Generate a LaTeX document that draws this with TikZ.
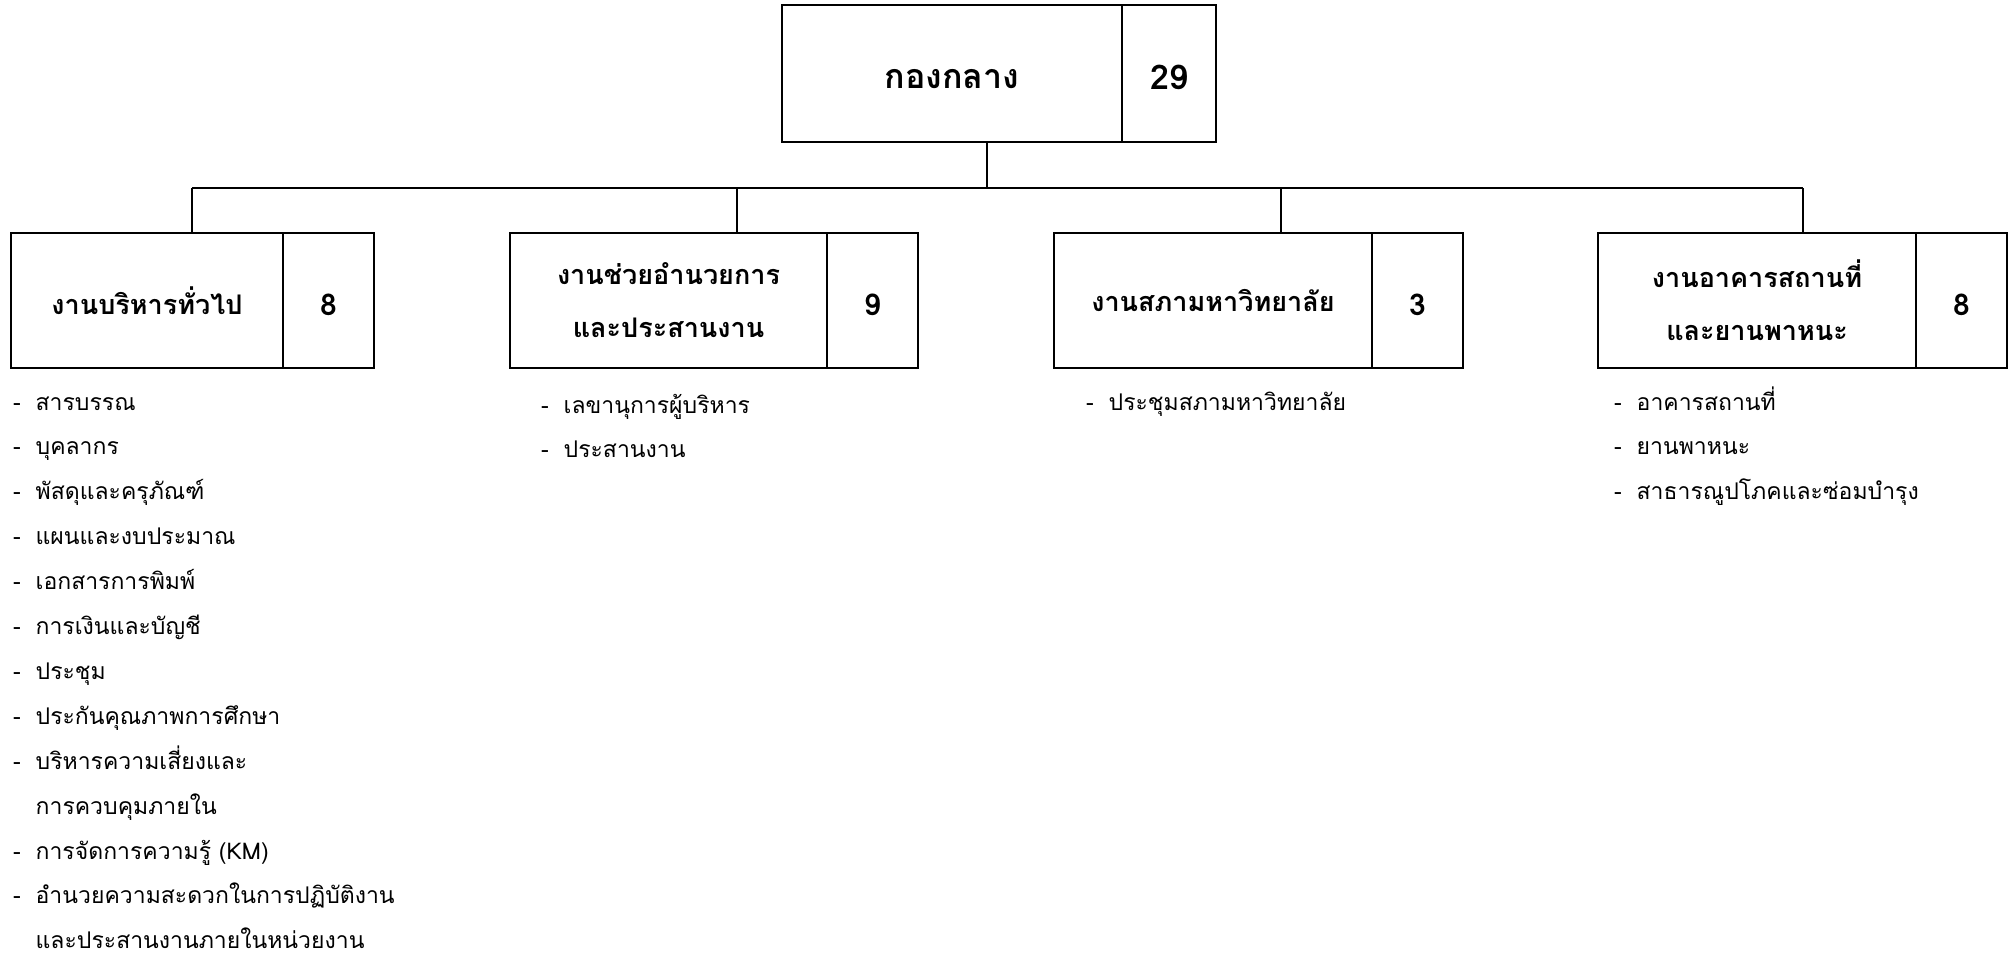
\documentclass[tikz,border=0pt]{standalone}
\usepackage{fontspec}
\setmainfont[Script=Thai]{Loma}
\newcommand{\lowerby}[2]{\raisebox{-#1}[\height][\depth]{#2}}
\newcommand{\trimdepth}[1]{\raisebox{0pt}[\height][\dimexpr\depth-8pt\relax]{#1}}
\begin{document}
\begin{tikzpicture}[x=0.5pt,y=-0.5pt,line width=1pt]
\useasboundingbox (0,0) rectangle (2011,954);
\tikzset{
  unit/.style={draw, inner sep=0pt, align=center, minimum height=67.5pt,
    font=\bfseries\fontsize{13.5}{26.5}\selectfont},
  topunit/.style={draw, inner sep=0pt, align=center, minimum height=68.5pt,
    font=\bfseries\fontsize{17}{22}\selectfont},
  numpart/.style={minimum width=45.5pt, font=\bfseries\fontsize{15}{20}\selectfont},
  tasks/.style={inner sep=0pt, anchor=base west, font=\fontsize{11.5}{22.45}\selectfont},
}
% top
\node[topunit, minimum width=170pt] (top) at (952,73.5) {\lowerby{3pt}{กองกลาง}};
\node[topunit, minimum width=47pt] (topn) at (1169,73.5) {\lowerby{2pt}{29}};
% units
\node[unit, minimum width=136pt] (u1) at (147,300.5) {งานบริหารทั่วไป};
\node[unit, numpart] (n1) at (328.5,300.5) {\lowerby{2pt}{8}};
\node[unit, minimum width=158.5pt] (u2) at (668.5,300.5) {งานช่วยอำนวยการ\\และประสานงาน};
\node[unit, numpart] (n2) at (872.5,300.5) {\lowerby{2pt}{9}};
\node[unit, minimum width=159pt] (u3) at (1213,300.5) {งานสภามหาวิทยาลัย};
\node[unit, numpart] (n3) at (1417.5,300.5) {\lowerby{2pt}{3}};
\node[unit, minimum width=159pt] (u4) at (1757,300.5) {งานอาคารสถานที่\\และยานพาหนะ};
\node[unit, numpart] (n4) at (1961.5,300.5) {\lowerby{2pt}{8}};
% connectors
\coordinate (j0) at (987,188);
\coordinate (j1) at (192,188);
\coordinate (j2) at (737,188);
\coordinate (j3) at (1281,188);
\coordinate (j4) at (1803,188);
\draw (top.south -| j0) -- (j0);
\draw (j1) -- (j4);
\draw (j1) -- (u1.north -| j1);
\draw (j2) -- (u2.north -| j2);
\draw (j3) -- (u3.north -| j3);
\draw (j4) -- (u4.north -| j4);
% task lists
\node[tasks] (l1) at (12,410) {\trimdepth{\begin{tabular}[t]{@{}l@{\hspace{7.5pt}}l@{}}
-&สารบรรณ\\
-&บุคลากร\\
-&พัสดุและครุภัณฑ์\\
-&แผนและงบประมาณ\\
-&เอกสารการพิมพ์\\
-&การเงินและบัญชี\\
-&ประชุม\\
-&ประกันคุณภาพการศึกษา\\
-&บริหารความเสี่ยงและ\\
&การควบคุมภายใน\\
-&การจัดการความรู้ (KM)\\
-&อำนวยความสะดวกในการปฏิบัติงาน\\
&และประสานงานภายในหน่วยงาน
\end{tabular}}};
\node[tasks] (l2) at (540,413) {\begin{tabular}[t]{@{}l@{\hspace{7.5pt}}l@{}}
-&เลขานุการผู้บริหาร\\
-&ประสานงาน
\end{tabular}};
\node[tasks] (l3) at (1085,410) {\begin{tabular}[t]{@{}l@{\hspace{7.5pt}}l@{}}
-&ประชุมสภามหาวิทยาลัย
\end{tabular}};
\node[tasks] (l4) at (1613,410) {\begin{tabular}[t]{@{}l@{\hspace{7.5pt}}l@{}}
-&อาคารสถานที่\\
-&ยานพาหนะ\\
-&สาธารณูปโภคและซ่อมบำรุง
\end{tabular}};
\end{tikzpicture}
\end{document}
